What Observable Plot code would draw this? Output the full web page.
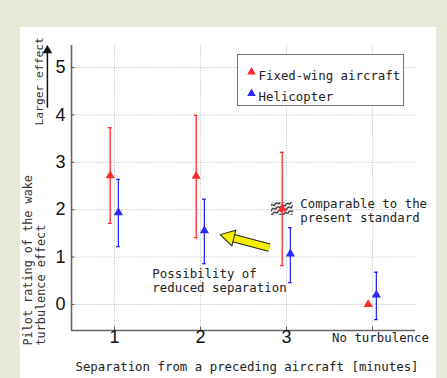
<!DOCTYPE html>
<html><head><meta charset="utf-8">
<script src="https://cdn.jsdelivr.net/npm/d3@7"></script>
<script src="https://cdn.jsdelivr.net/npm/@observablehq/plot@0.6"></script>
<style>
html,body{margin:0;padding:0;background:#e9e9da;width:447px;height:378px;overflow:hidden;}
#panel{position:absolute;left:20px;top:27px;width:416px;height:351px;background:#fff;}
#chart{position:absolute;left:0;top:0;}
</style></head><body><div id="panel"></div><div id="chart"></div>
<script>
// ---- data ----
const categories = [1, 2, 3, 4];
const categoryLabels = ["1", "2", "3", "No turbulence"];
const yTicks = [0, 1, 2, 3, 4, 5];
const seriesNames = ["Fixed-wing aircraft", "Helicopter"];
const seriesColors = ["#ff2a2a", "#2a2aff"];
const seriesOffsets = [-0.05, 0.045];
const fixedMean = [2.72, 2.71, 2.02, 0.0];
const fixedLow  = [1.71, 1.41, 0.82, null];
const fixedHigh = [3.73, 3.99, 3.21, null];
const heliMean  = [1.94, 1.56, 1.07, 0.20];
const heliLow   = [1.22, 0.86, 0.46, -0.32];
const heliHigh  = [2.64, 2.22, 1.62, 0.68];
const xTitle = "Separation from a preceding aircraft [minutes]";
const yTitleLines = ["Pilot rating of the wake", "turbulence effect"];
const yArrowLabel = "Larger effect";
const notes = [
  {x: 3.16, y: 1.99, text: "Comparable to the\npresent standard"},
  {x: 1.44, y: 0.51, text: "Possibility of\nreduced separation"}
];
const bigArrow = [{x1: 2.80, y1: 1.20, x2: 2.36, y2: 1.41, tipX: 2.255, tipY: 1.457}];
const effectArrow = [{x: 0.22, y1: 4.14, y2: 5.30, tip: 5.36}];

const xDomain = [0.5, 4.5];
const yDomain = [-0.55, 5.465];

const points = [];
[[fixedMean, fixedLow, fixedHigh], [heliMean, heliLow, heliHigh]].forEach(([m, l, h], s) =>
  categories.forEach((c, i) => points.push({series: seriesNames[s], x: c + seriesOffsets[s], mean: m[i], low: l[i], high: h[i], cat: c})));
const bars = points.filter(d => d.low != null);
const standard = points.filter(d => d.series === seriesNames[0] && d.cat === 3);

const mono = "DejaVu Sans Mono";
const sans = "Liberation Sans, Arial, sans-serif";

const chart = Plot.plot({
  width: 447, height: 378,
  marginLeft: 71, marginRight: 32, marginTop: 45, marginBottom: 48,
  x: {domain: xDomain, axis: null},
  y: {domain: yDomain, axis: null},
  color: {domain: seriesNames, range: seriesColors},
  style: {fontFamily: mono, fontSize: "12.4px", background: "transparent", overflow: "visible"},
  marks: [
    Plot.gridY(yTicks, {stroke: "#bdbdbd", strokeOpacity: 1, strokeDasharray: "1,1.5"}),
    Plot.gridX(categories, {stroke: "#bdbdbd", strokeOpacity: 1, strokeDasharray: "1,1.5"}),
    Plot.ruleX([xDomain[0]], {stroke: "#666", strokeWidth: 1.6}),
    Plot.ruleY([yDomain[0]], {stroke: "#666", strokeWidth: 1.6}),
    Plot.ruleY(yTicks, {y: d => d, x1: xDomain[0], x2: xDomain[0] + 0.04, stroke: "#555"}),
    Plot.ruleX(categories, {x: d => d, y1: yDomain[0], y2: yDomain[0] + 0.07, stroke: "#555"}),
    Plot.axisY(yTicks, {tickSize: 0, tickPadding: 6, fontSize: 18, fontFamily: sans, fill: "#111", label: null}),
    Plot.text(categories.slice(0, 3), {x: d => d, text: (d, i) => categoryLabels[i], frameAnchor: "bottom", dy: 12.5, fontSize: 18, fontFamily: sans, fill: "#111"}),
    Plot.text(categories.slice(3), {x: d => d, text: () => categoryLabels[3], frameAnchor: "bottom", dy: 11.5, dx: 8, fill: "#222"}),
    // legend box
    Plot.frame({fill: "white", stroke: "#777", insetLeft: 166, insetRight: 12, insetTop: 9, insetBottom: 225}),
    ...seriesNames.map((name, i) => Plot.dot([name], {frameAnchor: "top-left", dx: 180, dy: 26.5 + 21.5 * i, symbol: "triangle", r: 3.2, fill: seriesColors[i]})),
    ...seriesNames.map((name, i) => Plot.text([name], {frameAnchor: "top-left", dx: 187, dy: 25.5 + 21.5 * i, text: d => d, textAnchor: "start", fill: "#222"})),
    // hatched "present standard" marker
    Plot.rect(standard, {x1: d => d.x - 0.125, x2: d => d.x + 0.13, y1: d => d.mean - 0.14, y2: d => d.mean + 0.13, fill: "url(#hatch)"}),
    // error bars
    Plot.ruleX(bars, {x: "x", y1: "low", y2: "high", stroke: "series", strokeWidth: 1.3}),
    Plot.ruleY(bars, {y: "high", x1: d => d.x - 0.022, x2: d => d.x + 0.022, stroke: "series", strokeWidth: 1.3}),
    Plot.ruleY(bars, {y: "low", x1: d => d.x - 0.022, x2: d => d.x + 0.022, stroke: "series", strokeWidth: 1.3}),
    Plot.dot(points, {x: "x", y: "mean", fill: "series", symbol: "triangle", r: 3.4}),
    // annotations
    Plot.text(notes, {x: "x", y: "y", text: "text", textAnchor: "start", lineAnchor: "middle", lineHeight: 1.17, fill: "#222"}),
    // yellow arrow
    Plot.link(bigArrow, {x1: "x1", y1: "y1", x2: "x2", y2: "y2", stroke: "#222", strokeWidth: 8.5}),
    Plot.link(bigArrow, {x1: "x1", y1: "y1", x2: "x2", y2: "y2", stroke: "#f4f000", strokeWidth: 6.5}),
    Plot.dot(bigArrow, {x: d => (d.tipX + 2 * d.x2) / 3 + 0.01, y: d => (d.tipY + 2 * d.y2) / 3, symbol: "triangle", r: 6, rotate: -76, fill: "#f4f000", stroke: "#222", strokeWidth: 1}),
    // y titles
    Plot.ruleX(effectArrow, {x: "x", y1: "y1", y2: "y2", stroke: "#111", strokeWidth: 1.5}),
    Plot.dot(effectArrow, {x: "x", y: "tip", symbol: "triangle", r: 3.6, fill: "#111"}),
    Plot.text([yArrowLabel], {frameAnchor: "top-left", dx: -37, dy: 80, rotate: -90, text: d => d, textAnchor: "start", fontSize: 11.3, fill: "#333"}),
    ...yTitleLines.map((line, i) => Plot.text([line], {frameAnchor: "bottom-left", dx: -40 + 13.5 * i, dy: 15, rotate: -90, text: d => d, textAnchor: "start", fontSize: 11.8, fill: "#333"})),
    Plot.text([xTitle], {frameAnchor: "bottom", dx: 3.5, dy: 40, text: d => d, fill: "#222"})
  ]
});

const defs = d3.select(chart).insert("defs", ":first-child");
const pat = defs.append("pattern").attr("id", "hatch").attr("patternUnits", "userSpaceOnUse")
  .attr("width", 5).attr("height", 4).attr("patternTransform", "rotate(-20)");
pat.append("rect").attr("width", 5).attr("height", 4).attr("fill", "white");
pat.append("path").attr("d", "M0,1 L2.5,3 L5,1").attr("fill", "none").attr("stroke", "#111").attr("stroke-width", 1.3);
document.getElementById("chart").appendChild(chart);
</script></body></html>
